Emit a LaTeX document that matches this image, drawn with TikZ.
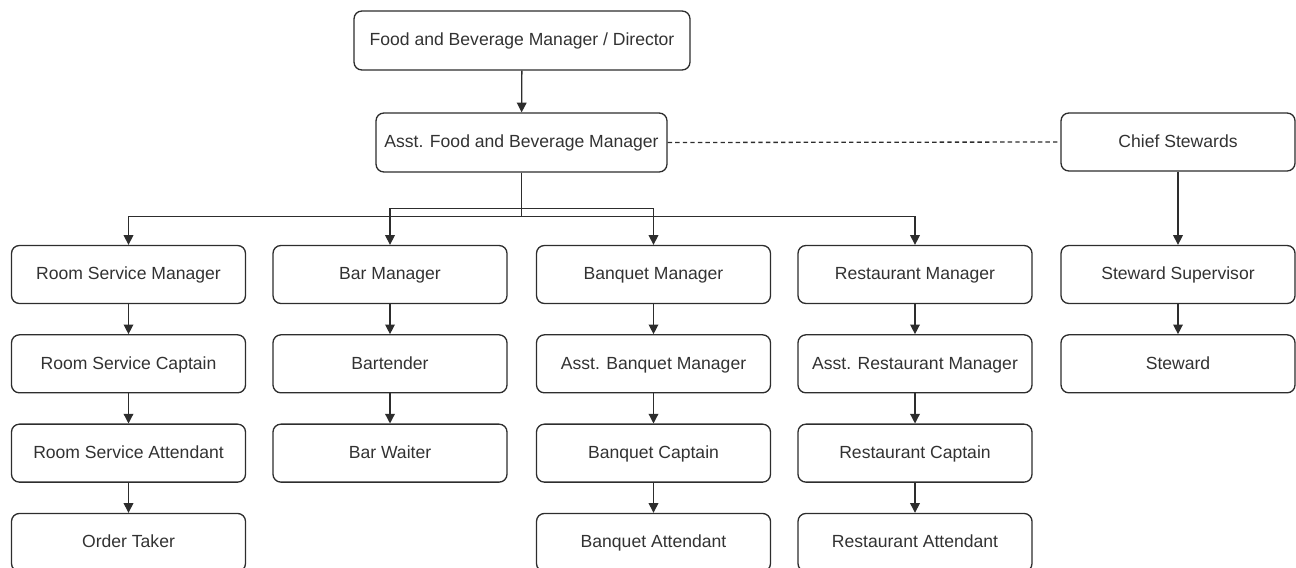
\documentclass[tikz,border=0pt]{standalone}
\usepackage{fontspec}
\setmainfont{Liberation Sans}
\usepackage{tikz}
\usetikzlibrary{arrows.meta, positioning, calc}
\definecolor{lineDark}{RGB}{45,45,45}
\definecolor{textDark}{RGB}{50,50,50}
\tikzset{
  basebox/.style={rectangle,rounded corners=4.5pt,draw=lineDark,line width=0.75pt,align=center,
    text=textDark,font=\fontsize{10}{12}\selectfont,inner sep=2pt,text height=1.6ex,text depth=0.45ex},
  rolenode/.style={basebox,minimum width=4.68cm,minimum height=1.16cm},
  arr/.style={-{Triangle[length=5.5pt,width=5.5pt]},line width=0.75pt,color=lineDark},
  dashline/.style={line width=0.75pt,dash pattern=on 2.5pt off 1.8pt,color=lineDark}
}
\begin{document}
\begin{tikzpicture}[node distance=0.6cm and 0.56cm]
  \useasboundingbox (0,0) rectangle (25.92,-11.34);
  % top of the hierarchy
  \node[basebox,minimum width=6.72cm,minimum height=1.18cm] (top) at (10.44,-0.81) {Food and Beverage Manager / Director};
  \node[basebox,minimum width=5.82cm,minimum height=1.18cm] (asst) at (10.43,-2.85) {Asst. Food and Beverage Manager};
  \node[rolenode] (chief) at (23.56,-2.84) {Chief Stewards};

  % department columns
  \node[rolenode] (rs1) at (2.57,-5.49) {Room Service Manager};
  \node[rolenode,below=of rs1] (rs2) {Room Service Captain};
  \node[rolenode,below=of rs2] (rs3) {Room Service Attendant};
  \node[rolenode,below=of rs3] (rs4) {Order Taker};

  \node[rolenode] (bar1) at (7.80,-5.49) {Bar Manager};
  \node[rolenode,below=of bar1] (bar2) {Bartender};
  \node[rolenode,below=of bar2] (bar3) {Bar Waiter};

  \node[rolenode] (bq1) at (13.07,-5.49) {Banquet Manager};
  \node[rolenode,below=of bq1] (bq2) {Asst. Banquet Manager};
  \node[rolenode,below=of bq2] (bq3) {Banquet Captain};
  \node[rolenode,below=of bq3] (bq4) {Banquet Attendant};

  \node[rolenode] (rt1) at (18.30,-5.49) {Restaurant Manager};
  \node[rolenode,below=of rt1] (rt2) {Asst. Restaurant Manager};
  \node[rolenode,below=of rt2] (rt3) {Restaurant Captain};
  \node[rolenode,below=of rt3] (rt4) {Restaurant Attendant};

  \node[rolenode] (st1) at (23.56,-5.49) {Steward Supervisor};
  \node[rolenode,below=of st1] (st2) {Steward};

  % connectors
  \draw[arr] (top)--(asst);
  \draw[dashline] (asst.east)--(chief.west);
  \draw[arr] (asst.south) -- ++(0,-0.88) -| (rs1.north);
  \draw[arr] (asst.south) -- ++(0,-0.72) -| (bar1.north);
  \draw[arr] (asst.south) -- ++(0,-0.72) -| (bq1.north);
  \draw[arr] (asst.south) -- ++(0,-0.88) -| (rt1.north);
  \draw[arr] (chief)--(st1); \draw[arr] (st1)--(st2);
  \draw[arr] (rs1)--(rs2); \draw[arr] (rs2)--(rs3); \draw[arr] (rs3)--(rs4);
  \draw[arr] (bar1)--(bar2); \draw[arr] (bar2)--(bar3);
  \draw[arr] (bq1)--(bq2); \draw[arr] (bq2)--(bq3); \draw[arr] (bq3)--(bq4);
  \draw[arr] (rt1)--(rt2); \draw[arr] (rt2)--(rt3); \draw[arr] (rt3)--(rt4);
\end{tikzpicture}
\end{document}
